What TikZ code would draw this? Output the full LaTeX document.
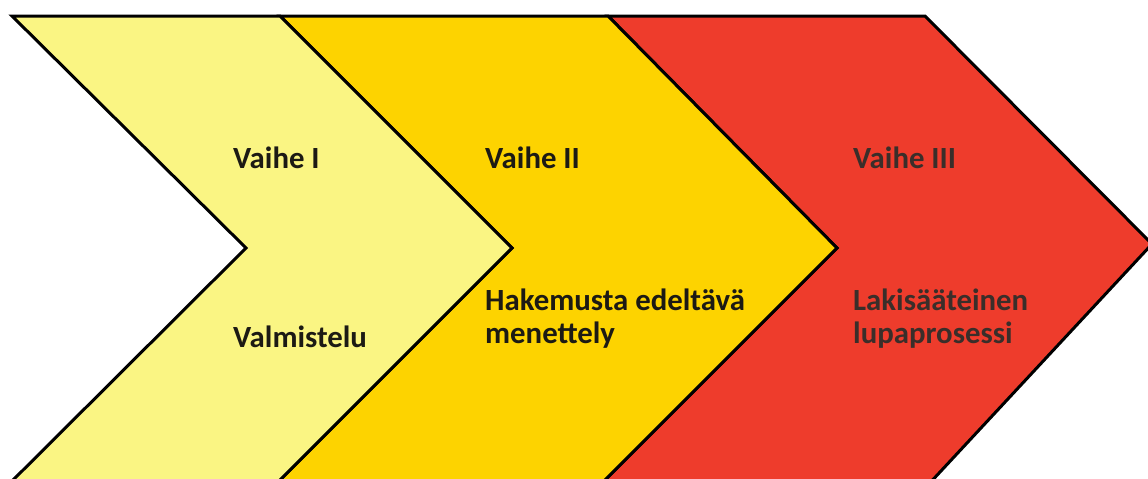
\documentclass[tikz,border=0pt]{standalone}
\usepackage{fontspec}
\setmainfont{Carlito}
\definecolor{lightyel}{HTML}{FAF583}
\definecolor{midyel}{HTML}{FDD300}
\definecolor{redph}{HTML}{EE3C2C}
\definecolor{txtdark}{HTML}{1C1A14}
\definecolor{txtred}{HTML}{3A2E2A}
\tikzset{
  chev/.style={draw=black, line width=3pt, line join=miter},
  lbl/.style={font=\bfseries\fontsize{30.8}{33}\selectfont, inner sep=0pt, anchor=base west, text=txtdark},
}
\begin{document}
\begin{tikzpicture}[x=1pt,y=-1pt]
\useasboundingbox (0,0) rectangle (1148,479);
\fill[white] (0,0) rectangle (1148,479);
\begin{scope}
\clip (0,0) rectangle (1148,479);
\draw[chev, fill=redph] (608,16) -- (925,16) -- (1152,244) -- (914,500) -- (585,500) -- (837,248) -- cycle;
\draw[chev, fill=midyel] (280,16) -- (608,16) -- (837,248) -- (585,500) -- (260,500) -- (512,248) -- cycle;
\draw[chev, fill=lightyel] (12,16) -- (280,16) -- (512,248) -- (260,500) -- (-7,500) -- (246,248) -- cycle;
\end{scope}
\node[lbl] (v1) at (233,168) {Vaihe I};
\node[lbl] (d1) at (233,347) {Valmistelu};
\node[lbl] (v2) at (485,168) {Vaihe II};
\node[lbl] (d2a) at (485,310) {Hakemusta edeltävä};
\node[lbl] (d2b) at (485,343) {menettely};
\node[lbl, text=txtred] (v3) at (853,168) {Vaihe III};
\node[lbl, text=txtred] (d3a) at (853,310) {Lakisääteinen};
\node[lbl, text=txtred] (d3b) at (853,343) {lupaprosessi};
\end{tikzpicture}
\end{document}
